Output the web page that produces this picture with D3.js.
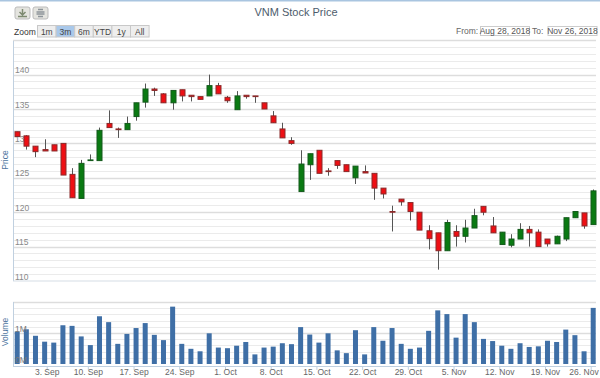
<!DOCTYPE html>
<html>
<head>
<meta charset="utf-8">
<script src="https://cdn.jsdelivr.net/npm/d3@7"></script>
<style>
  html, body { margin: 0; padding: 0; background: #fff; }
  svg { display: block; font-family: "Liberation Sans", sans-serif; }
</style>
</head>
<body>
<svg width="600" height="378"></svg>
<script>
const open = [131.7,131.1,129.6,129.1,129.8,130.0,125.5,122.0,127.5,127.5,132.9,132.1,132.0,133.9,136.0,137.9,
  137.2,135.9,137.8,137.0,136.8,136.9,138.4,136.7,134.9,137.0,136.9,135.9,134.0,132.1,130.4,123.0,
  126.9,129.0,126.0,127.5,126.9,125.0,125.9,125.65,123.5,120.1,121.9,121.4,120.0,117.3,117.0,114.4,
  117.2,116.5,117.7,120.85,118.0,115.3,115.2,116.1,117.5,117.1,116.1,115.4,116.1,119.2,119.9,118.2];
const high = [131.7,131.2,129.6,130.6,129.8,130.0,126.4,127.6,128.4,132.3,134.8,132.3,133.9,135.9,138.7,138.1,
  137.3,137.7,137.8,137.0,136.8,140.0,138.8,136.9,137.6,137.0,136.9,135.9,134.7,133.0,130.9,129.0,
  128.5,129.0,126.4,127.5,126.9,126.7,126.8,125.65,123.5,120.95,121.9,121.4,120.0,118.1,117.0,118.9,
  118.1,118.9,120.5,120.85,119.3,117.1,116.8,118.4,118.0,117.5,116.1,116.6,119.2,120.1,119.9,123.3];
const low = [131.0,129.1,128.0,128.9,128.9,125.4,122.1,122.0,127.5,127.5,132.3,130.8,132.0,133.3,135.2,136.9,
  135.9,134.9,136.1,136.1,136.4,136.9,137.2,135.9,134.9,136.5,135.9,135.0,133.0,130.8,129.8,123.0,
  124.7,125.65,125.3,126.3,125.9,124.1,125.7,121.8,122.0,117.2,120.95,118.8,117.4,114.6,111.65,114.4,
  115.0,115.6,117.7,119.55,117.0,115.3,114.9,116.1,115.0,115.0,115.0,115.4,115.8,119.2,117.6,118.2];
const close = [131.0,129.6,128.8,128.9,128.9,125.4,122.1,127.1,127.6,131.9,132.3,132.0,132.9,135.9,137.9,137.7,
  135.9,137.7,136.9,136.8,136.4,138.4,137.2,136.2,136.9,136.8,136.8,135.0,133.0,130.8,130.0,127.0,
  128.5,125.65,125.9,126.8,125.9,126.7,125.7,123.5,122.65,120.0,121.5,120.1,117.4,116.15,114.4,118.5,
  116.5,117.7,119.5,120.0,117.0,117.1,116.1,117.5,117.0,115.0,115.4,116.5,119.2,120.1,118.0,123.1];
const volume = [1.05,1.12,0.91,0.72,0.69,1.25,1.23,0.89,0.61,1.54,1.35,0.65,0.97,1.16,1.32,0.94,
  0.77,1.85,0.65,0.49,0.41,0.99,0.53,0.51,0.59,0.71,0.31,0.53,0.56,0.67,0.64,1.19,
  0.95,0.69,0.99,0.44,0.35,1.09,0.31,1.19,0.75,1.16,0.65,0.49,0.53,1.07,1.73,1.61,
  0.85,1.61,1.35,0.81,0.74,0.59,0.49,0.67,0.55,0.57,0.75,0.71,1.11,0.93,0.41,1.81];

const tickLabels = ["3. Sep","10. Sep","17. Sep","24. Sep","1. Oct","8. Oct","15. Oct","22. Oct","29. Oct","5. Nov","12. Nov","19. Nov","26. Nov"];
const tickIndex = [3.5,8,13,18,23,28,33,38,43,48,53,58,63];
const priceLabels = [110,115,120,125,130,135,140];
const zoomButtons = ["1m","3m","6m","YTD","1y","All"];

const svg = d3.select("svg");
const left = 13, right = 596;

const x = d3.scaleLinear().domain([0, 63]).range([17.2, 593.2]);
const y = d3.scaleLinear().domain([110, 145]).range([281, 40.2]);
const yVol = d3.scaleLinear().domain([0, 2]).range([364, 302]);

// frame
svg.append("rect").attr("width", 600).attr("height", 1.5).attr("fill", "#a9c5e0");

// price grid
const minor = d3.range(111, 146).filter(d => d % 5 != 0);
const major = d3.range(115, 146, 5);
svg.append("g").selectAll("line").data(minor).enter().append("line")
    .attr("x1", left).attr("x2", right)
    .attr("y1", d => Math.round(y(d)) + 0.5).attr("y2", d => Math.round(y(d)) + 0.5)
    .attr("stroke", "#ebebeb");
svg.append("g").selectAll("line").data(major).enter().append("line")
    .attr("x1", left).attr("x2", right)
    .attr("y1", d => Math.round(y(d)) + 0.5).attr("y2", d => Math.round(y(d)) + 0.5)
    .attr("stroke", "#dddddd").attr("stroke-width", 1.5);

// volume grid
const volMinor = d3.range(0, 2, 0.2).filter(d => d > 0 && Math.abs(d - 1) > 0.01);
svg.append("g").selectAll("line").data(volMinor).enter().append("line")
    .attr("x1", left).attr("x2", right)
    .attr("y1", d => Math.round(yVol(d)) + 0.5).attr("y2", d => Math.round(yVol(d)) + 0.5)
    .attr("stroke", "#ebebeb");
svg.append("g").selectAll("line").data([1, 2]).enter().append("line")
    .attr("x1", left).attr("x2", right)
    .attr("y1", d => Math.round(yVol(d)) + 0.5).attr("y2", d => Math.round(yVol(d)) + 0.5)
    .attr("stroke", "#dddddd").attr("stroke-width", 1.5);

// left axis lines
svg.append("line").attr("x1", left + 0.5).attr("x2", left + 0.5).attr("y1", 41).attr("y2", 281).attr("stroke", "#c0d0e0");
svg.append("line").attr("x1", left).attr("x2", right).attr("y1", 281).attr("y2", 281).attr("stroke", "#d5dde5");
svg.append("line").attr("x1", left + 0.5).attr("x2", left + 0.5).attr("y1", 302).attr("y2", 366).attr("stroke", "#c0d0e0");

// y labels
svg.append("g").selectAll("text").data(priceLabels).enter().append("text")
    .attr("x", 15).attr("y", d => y(d) - 1.5)
    .attr("font-size", 8.5).attr("fill", "#888")
    .text(d => d);

// candles
const candle = svg.append("g").selectAll("g").data(d3.range(open.length)).enter().append("g");
candle.append("line")
    .attr("x1", i => Math.round(x(i)) + 0.5).attr("x2", i => Math.round(x(i)) + 0.5)
    .attr("y1", i => y(high[i])).attr("y2", i => y(low[i]))
    .attr("stroke", "#555");
candle.append("rect")
    .attr("x", i => Math.round(x(i)) - 2)
    .attr("width", 5)
    .attr("y", i => y(Math.max(open[i], close[i])))
    .attr("height", i => Math.abs(open[i] - close[i]) * (y(0) - y(1)))
    .attr("fill", i => close[i] > open[i] ? "#0a7a12" : "#ee0f14")
    .attr("stroke", i => close[i] > open[i] ? "#145a1c" : "#8a2a2a");

// volume bars
svg.append("g").selectAll("rect").data(volume).enter().append("rect")
    .attr("x", (d, i) => x(i) - 2.5)
    .attr("width", 5)
    .attr("y", d => yVol(d))
    .attr("height", d => yVol(0) - yVol(d))
    .attr("fill", "#3f6fa6");
svg.append("g").selectAll("text").data([0, 1]).enter().append("text")
    .attr("x", 15).attr("y", d => yVol(d) - 1.5)
    .attr("font-size", 8.5).attr("fill", "#777")
    .text(d => d + "M");

// x axis
const xAxis = svg.append("g");
xAxis.append("line").attr("x1", left).attr("x2", right).attr("y1", 366.5).attr("y2", 366.5).attr("stroke", "#c0d0e0");
xAxis.selectAll("line.tick").data(tickIndex).enter().append("line").attr("class", "tick")
    .attr("x1", d => x(d) - 2).attr("x2", d => x(d) - 2)
    .attr("y1", 366).attr("y2", 370).attr("stroke", "#c0d0e0");
// last label is pulled in from the edge, as in the original
xAxis.selectAll("text").data(tickLabels).enter().append("text")
    .attr("x", (d, i) => i == tickLabels.length - 1 ? 584 : x(tickIndex[i]) - 2).attr("y", 375)
    .attr("text-anchor", "middle").attr("font-size", 8.5).attr("fill", "#666")
    .text(d => d);

// axis titles
svg.append("text").attr("transform", "translate(8,160) rotate(-90)")
    .attr("text-anchor", "middle").attr("font-size", 8.5).attr("fill", "#4d759e").text("Price");
svg.append("text").attr("transform", "translate(8,332) rotate(-90)")
    .attr("text-anchor", "middle").attr("font-size", 8.5).attr("fill", "#4d759e").text("Volume");

// title
svg.append("text").attr("x", 296).attr("y", 16).attr("text-anchor", "middle")
    .attr("font-size", 11).attr("fill", "#4d5c6c").text("VNM Stock Price");

// export buttons
[15, 33].forEach((bx, k) => {
  svg.append("rect").attr("x", bx).attr("y", 7).attr("width", 15).attr("height", 12).attr("rx", 2)
      .attr("fill", "#e4e4df").attr("stroke", "#bbb");
  if (k == 0) {
    svg.append("path").attr("d", `M${bx + 7.5} 9v5M${bx + 4.5} 12l3 3 3-3M${bx + 3} 16.5h9`)
        .attr("fill", "none").attr("stroke", "#7d8a70").attr("stroke-width", 1.5);
  } else {
    svg.append("path").attr("d", `M${bx + 5} 9.5h5M${bx + 3.5} 12h8M${bx + 3.5} 14h8M${bx + 5} 16.5h5`)
        .attr("fill", "none").attr("stroke", "#8d949a").attr("stroke-width", 1.5);
  }
});

// range selector
svg.append("text").attr("x", 14).attr("y", 35).attr("font-size", 8.5).attr("fill", "#333").text("Zoom");
const btn = svg.append("g").selectAll("g").data(zoomButtons).enter().append("g")
    .attr("transform", (d, i) => `translate(${37.5 + i * 18.6},25.5)`);
btn.append("rect").attr("width", 18.6).attr("height", 11.5)
    .attr("fill", d => d == "3m" ? "#a9c8ea" : "#eeeeee")
    .attr("stroke", "#c8c8c8");
btn.append("text").attr("x", 9.3).attr("y", 9).attr("text-anchor", "middle")
    .attr("font-size", 8.5).attr("fill", "#444").text(d => d);

// date inputs
svg.append("text").attr("x", 456).attr("y", 34).attr("font-size", 8.5).attr("fill", "#666").text("From:");
svg.append("text").attr("x", 532).attr("y", 34).attr("font-size", 8.5).attr("fill", "#666").text("To:");
[[480, "Aug 28, 2018"], [547.5, "Nov 26, 2018"]].forEach(d => {
  svg.append("rect").attr("x", d[0] + 0.5).attr("y", 26.5).attr("width", 49).attr("height", 9)
      .attr("fill", "#fff").attr("stroke", "#ccc");
  svg.append("text").attr("x", d[0] + 25).attr("y", 34).attr("text-anchor", "middle")
      .attr("font-size", 8.5).attr("fill", "#555").text(d[1]);
});
</script>
</body>
</html>
